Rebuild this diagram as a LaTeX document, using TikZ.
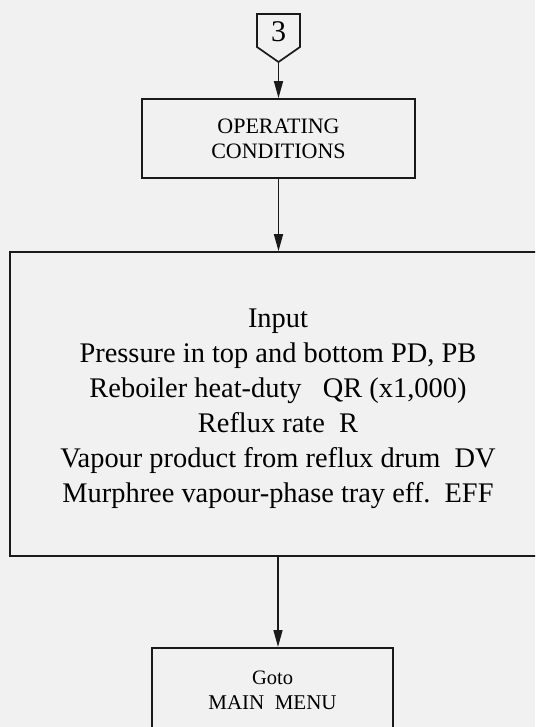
\documentclass[tikz,border=0pt]{standalone}
\usepackage{fontspec}
\setmainfont{Liberation Serif}
\usetikzlibrary{arrows.meta,positioning}
\definecolor{ink}{HTML}{1A1A1A}
\definecolor{paper}{HTML}{F1F1F1}
\tikzset{
  ar/.style={-{Triangle[length=17pt,width=9pt]},line width=1.5pt,ink},
  box/.style={draw=ink,line width=1.7pt,align=center,inner sep=0pt},
  tagbox/.style={draw=ink,line width=1.7pt,line join=miter}
}
\begin{document}
\begin{tikzpicture}[x=1pt,y=-1pt]
\fill[paper] (0,0) rectangle (535,727);
\clip (0,0) rectangle (535,727);
% off-page connector
\draw[tagbox] (257,14) -- (300,14) -- (300,47) -- (278.5,62) -- (257,47) -- cycle;
\node[font=\fontsize{30}{32}\selectfont] (tag) at (278.5,32) {3};
\coordinate (tagtip) at (278.5,62);
\node[box,minimum width=273pt,minimum height=79pt,font=\fontsize{22}{25}\selectfont] (opcond) at (278.5,138.5) {OPERATING\\CONDITIONS};
\node[box,minimum width=536pt,minimum height=304pt] (input) at (278,404) {};
\node[align=center,font=\fontsize{28.4}{35}\selectfont] (inputtxt) at (278,409)
  {Input\\Pressure in top and bottom PD, PB\\Reboiler heat-duty~~~QR (x1,000)\\Reflux rate~~R\\Vapour product from reflux drum~~DV\\Murphree vapour-phase tray eff.~~EFF};
\node[box,anchor=north,minimum width=241pt,minimum height=84pt,font=\fontsize{21}{25}\selectfont] (goto) at (272.5,647) {{\fontsize{20.5}{25}\selectfont Goto}\\MAIN~~MENU};
\draw[ar] (tagtip) -- (opcond.north);
\draw[ar] (opcond.south) -- (opcond.south |- input.north);
\draw[ar] (input.south) -- (input.south |- goto.north);
\end{tikzpicture}
\end{document}
